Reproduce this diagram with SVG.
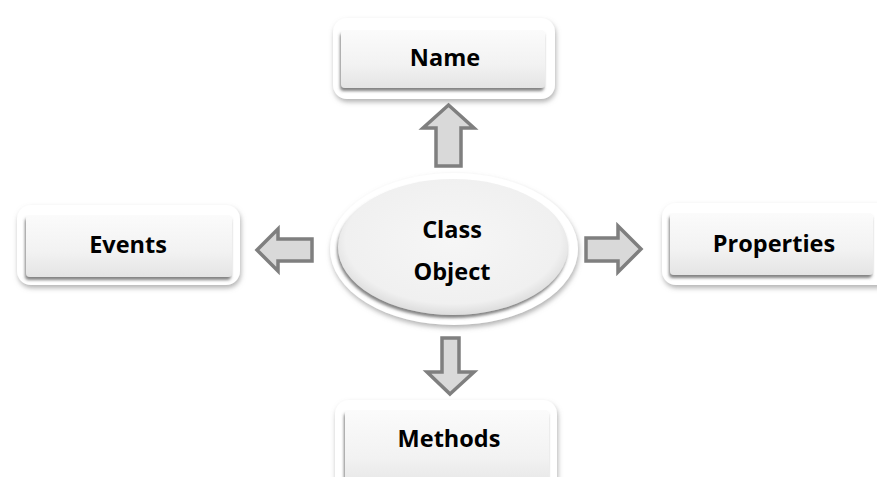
<svg xmlns="http://www.w3.org/2000/svg" width="877" height="477" viewBox="0 0 877 477">
  <defs>
    <filter id="frameShadow" x="-10%" y="-20%" width="120%" height="150%">
      <feGaussianBlur in="SourceAlpha" stdDeviation="2.5"/>
      <feOffset dx="1" dy="3" result="b"/>
      <feFlood flood-color="#808080" flood-opacity="0.6"/>
      <feComposite in2="b" operator="in"/>
      <feMerge><feMergeNode/><feMergeNode in="SourceGraphic"/></feMerge>
    </filter>
    <filter id="keyShadow" x="-10%" y="-20%" width="120%" height="150%">
      <feGaussianBlur in="SourceAlpha" stdDeviation="1.4"/>
      <feOffset dx="-1" dy="2.5" result="b"/>
      <feFlood flood-color="#5a5a5a" flood-opacity="0.75"/>
      <feComposite in2="b" operator="in"/>
      <feMerge><feMergeNode/><feMergeNode in="SourceGraphic"/></feMerge>
    </filter>
    <linearGradient id="keyFill" x1="0" y1="0" x2="0" y2="1">
      <stop offset="0" stop-color="#fbfbfb"/>
      <stop offset="0.6" stop-color="#f2f2f2"/>
      <stop offset="1" stop-color="#e4e4e4"/>
    </linearGradient>
    <radialGradient id="ovalFill" cx="0.5" cy="0.45" r="0.55">
      <stop offset="0" stop-color="#f6f6f6"/>
      <stop offset="0.85" stop-color="#f0f0f0"/>
      <stop offset="1" stop-color="#dcdcdc"/>
    </radialGradient>
    <style>
      .frame { fill: #ffffff; }
      .key { fill: url(#keyFill); }
      .label { font-family: "Open Sans", "Liberation Sans", sans-serif; font-weight: bold; font-size: 23.5px; fill: #000000; text-anchor: middle; }
      .arrow { fill: #d9d9d9; stroke: #7f7f7f; stroke-width: 3.5; stroke-linejoin: miter; }
    </style>
  </defs>

  <rect width="877" height="477" fill="#ffffff"/>

  <!-- centre oval -->
  <g id="class-object">
    <ellipse cx="454" cy="249" rx="124" ry="76" class="frame" filter="url(#frameShadow)"/>
    <ellipse cx="453" cy="247" rx="115" ry="68" fill="url(#ovalFill)" filter="url(#keyShadow)"/>
    <text x="452" y="238" class="label">Class</text>
    <text x="452" y="280" class="label">Object</text>
  </g>

  <g id="name">
    <rect x="333" y="18" width="222" height="81" rx="14" class="frame" filter="url(#frameShadow)"/>
    <rect x="341" y="30" width="204" height="58" rx="4" class="key" filter="url(#keyShadow)"/>
    <text x="445" y="66" class="label">Name</text>
  </g>

  <g id="events">
    <rect x="17" y="205" width="223" height="80" rx="14" class="frame" filter="url(#frameShadow)"/>
    <rect x="26" y="215" width="206" height="62" rx="4" class="key" filter="url(#keyShadow)"/>
    <text x="128" y="253" class="label">Events</text>
  </g>

  <g id="properties">
    <rect x="662" y="203" width="232" height="82" rx="14" class="frame" filter="url(#frameShadow)"/>
    <rect x="670" y="213" width="203" height="62" rx="4" class="key" filter="url(#keyShadow)"/>
    <text x="774" y="252" class="label">Properties</text>
  </g>

  <g id="methods">
    <rect x="335" y="400" width="222" height="100" rx="14" class="frame" filter="url(#frameShadow)"/>
    <rect x="345" y="410" width="204" height="80" rx="4" class="key" filter="url(#keyShadow)"/>
    <text x="449" y="447" class="label">Methods</text>
  </g>

  <!-- block arrows from the oval to each box -->
  <g id="connectors">
    <path class="arrow" d="M448.5,105 L474,128 L461,128 L461,166 L436,166 L436,128 L423,128 Z"/>
    <path class="arrow" d="M257,250 L278,229 L278,239 L312,239 L312,261 L278,261 L278,271 Z"/>
    <path class="arrow" d="M641,249 L618,226 L618,238 L586,238 L586,261 L618,261 L618,272 Z"/>
    <path class="arrow" d="M450,394 L474,372 L459,372 L459,338 L442,338 L442,372 L427,372 Z"/>
  </g>
</svg>
